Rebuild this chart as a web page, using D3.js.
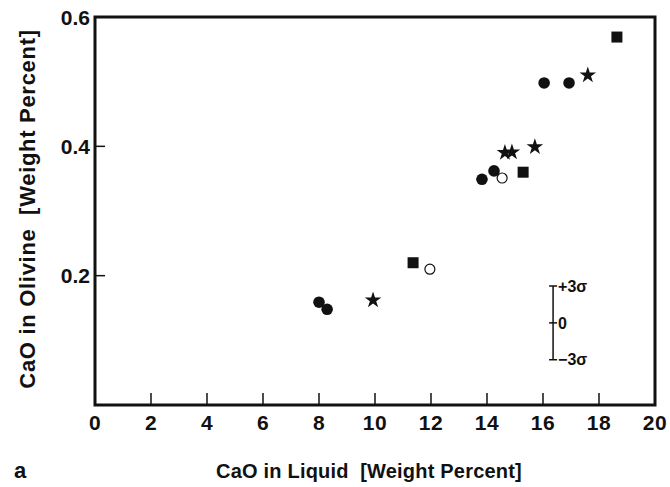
<!DOCTYPE html>
<html>
<head>
<meta charset="utf-8">
<script src="https://cdn.jsdelivr.net/npm/d3@7"></script>
<style>
  body { margin: 0; background: #fff; }
  text { font-family: "Liberation Sans", Arial, sans-serif; font-weight: bold; fill: #111; }
</style>
</head>
<body>
<svg id="chart" width="670" height="487"></svg>
<script>
const width = 670, height = 487;

// CaO in liquid (x) vs CaO in olivine (y), wt%
const filledCircles = [[8.0, 0.159], [8.29, 0.148], [13.82, 0.349], [14.25, 0.362], [16.04, 0.498], [16.93, 0.498]];
const openCircles = [[11.96, 0.210], [14.54, 0.351]];
const squares = [[11.36, 0.220], [15.29, 0.360], [18.64, 0.569]];
const stars = [[9.93, 0.162], [14.64, 0.390], [14.89, 0.391], [15.71, 0.399], [17.6, 0.510]];

const xTicks = [0, 2, 4, 6, 8, 10, 12, 14, 16, 18, 20];
const yTicks = [0.2, 0.4, 0.6];

// +-3 sigma error bar: [x, centre, half-width]
const sigmaBar = [16.36, 0.127, 0.057];

const margin = {top: 17, right: 15, bottom: 82, left: 95};
const x = d3.scaleLinear().domain([0, 20]).range([margin.left, width - margin.right]);
const y = d3.scaleLinear().domain([0, 0.6]).range([height - margin.bottom, margin.top]);

const svg = d3.select("#chart");

// frame
svg.append("rect")
  .attr("x", x(0)).attr("y", y(0.6))
  .attr("width", x(20) - x(0)).attr("height", y(0) - y(0.6))
  .attr("fill", "none").attr("stroke", "#111").attr("stroke-width", 3);

// x ticks (inward)
svg.append("g").selectAll("line")
  .data(xTicks.slice(1, -1))
  .join("line")
    .attr("x1", d => x(d)).attr("x2", d => x(d))
    .attr("y1", y(0)).attr("y2", y(0) - 12)
    .attr("stroke", "#111").attr("stroke-width", 1.5);

svg.append("g").selectAll("text")
  .data(xTicks)
  .join("text")
    .attr("x", d => x(d)).attr("y", 430)
    .attr("text-anchor", "middle")
    .attr("font-size", 21)
    .attr("letter-spacing", 0.5)
    .text(d => d);

// y ticks
svg.append("g").selectAll("line")
  .data(yTicks.slice(0, -1))
  .join("line")
    .attr("x1", x(0)).attr("x2", x(0) + 10)
    .attr("y1", d => y(d)).attr("y2", d => y(d))
    .attr("stroke", "#111").attr("stroke-width", 1.5);

svg.append("g").selectAll("text")
  .data(yTicks)
  .join("text")
    .attr("x", 90).attr("y", d => y(d))
    .attr("dy", "0.36em")
    .attr("text-anchor", "end")
    .attr("font-size", 21)
    .text(d => d.toFixed(1));

// axis titles
svg.append("text")
  .attr("x", 369).attr("y", 478)
  .attr("text-anchor", "middle").attr("font-size", 20)
  .attr("letter-spacing", 0.2)
  .text("CaO in Liquid\u00a0\u00a0[Weight\u00a0Percent]");

svg.append("text")
  .attr("transform", "translate(35,209) rotate(-90)")
  .attr("text-anchor", "middle").attr("font-size", 22)
  .attr("letter-spacing", 0.7)
  .text("CaO in Olivine\u00a0\u00a0[Weight\u00a0Percent]");

svg.append("text")
  .attr("x", 14).attr("y", 478).attr("font-size", 22)
  .text("a");

// markers
svg.append("g").selectAll("circle")
  .data(filledCircles)
  .join("circle")
    .attr("cx", d => x(d[0])).attr("cy", d => y(d[1]))
    .attr("r", 5.8).attr("fill", "#111");

svg.append("g").selectAll("circle")
  .data(openCircles)
  .join("circle")
    .attr("cx", d => x(d[0])).attr("cy", d => y(d[1]))
    .attr("r", 5).attr("fill", "#fff").attr("stroke", "#111").attr("stroke-width", 1.2);

svg.append("g").selectAll("rect")
  .data(squares)
  .join("rect")
    .attr("x", d => x(d[0]) - 5.5).attr("y", d => y(d[1]) - 5.5)
    .attr("width", 11).attr("height", 11).attr("fill", "#111");

const star = d3.symbol().type(d3.symbolStar).size(85);
svg.append("g").selectAll("path")
  .data(stars)
  .join("path")
    .attr("transform", d => `translate(${x(d[0])},${y(d[1])})`)
    .attr("d", star).attr("fill", "#111");

// sigma bar
const [sx, sc, sh] = sigmaBar;
const sg = svg.append("g").attr("stroke", "#111").attr("stroke-width", 1.5);
sg.append("line").attr("x1", x(sx)).attr("x2", x(sx)).attr("y1", y(sc + sh)).attr("y2", y(sc - sh));
[sc + sh, sc, sc - sh].forEach(v => {
  sg.append("line").attr("x1", x(sx) - 4).attr("x2", x(sx) + 4).attr("y1", y(v)).attr("y2", y(v));
});
svg.append("g").selectAll("text")
  .data([[sc + sh, "+3σ"], [sc, "0"], [sc - sh, "−3σ"]])
  .join("text")
    .attr("x", x(sx) + 5).attr("y", d => y(d[0]))
    .attr("dy", "0.36em").attr("font-size", 16)
    .text(d => d[1]);
</script>
</body>
</html>
